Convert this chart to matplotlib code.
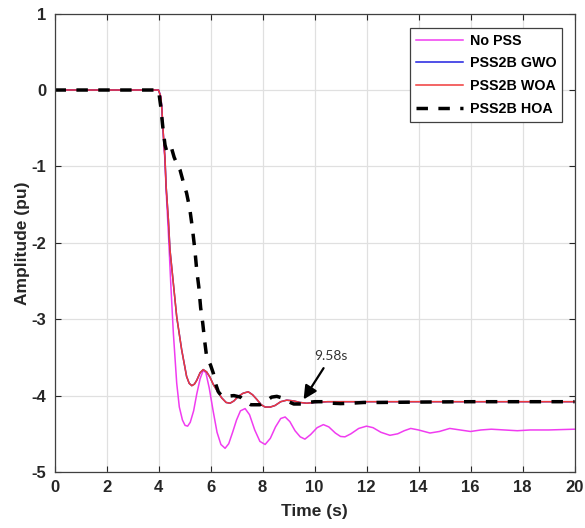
import matplotlib
matplotlib.use("Agg")
import matplotlib.pyplot as plt

plt.rcParams['font.family'] = ['Liberation Sans', 'DejaVu Sans']
plt.rcParams['axes.unicode_minus'] = False

# Terminal voltage deviation response (pu) after the disturbance at t = 4 s
t_nopss = [0, 4.0, 4.09, 4.13, 4.19, 4.25, 4.29, 4.38, 4.47, 4.57, 4.7, 4.8, 4.92,
           5.02, 5.12, 5.22, 5.35, 5.47, 5.6, 5.72, 5.82, 5.95, 6.1, 6.25, 6.4,
           6.56, 6.7, 6.85, 7.0, 7.15, 7.33, 7.5, 7.7, 7.9, 8.1, 8.3, 8.5, 8.7,
           8.87, 9.05, 9.25, 9.45, 9.63, 9.85, 10.1, 10.34, 10.55, 10.8, 11.0,
           11.17, 11.4, 11.7, 12.0, 12.25, 12.55, 12.9, 13.2, 13.45, 13.7, 14.0,
           14.44, 14.8, 15.2, 15.6, 16.0, 16.4, 16.8, 17.3, 17.8, 18.3, 19.0, 20.0]
y_nopss = [0, 0, -0.09, -0.26, -0.61, -0.95, -1.3, -1.88, -2.53, -3.18, -3.84,
           -4.15, -4.32, -4.39, -4.40, -4.35, -4.2, -3.98, -3.78, -3.67, -3.7,
           -3.9, -4.2, -4.48, -4.64, -4.69, -4.63, -4.48, -4.32, -4.2, -4.17,
           -4.25, -4.45, -4.6, -4.64, -4.56, -4.41, -4.3, -4.28, -4.34, -4.46,
           -4.54, -4.57, -4.51, -4.42, -4.38, -4.41, -4.49, -4.535, -4.54, -4.5,
           -4.43, -4.4, -4.42, -4.48, -4.52, -4.5, -4.46, -4.43, -4.45, -4.49,
           -4.47, -4.43, -4.45, -4.47, -4.45, -4.44, -4.45, -4.46, -4.45, -4.45,
           -4.44]

t_woa = [0, 4.0, 4.09, 4.13, 4.19, 4.25, 4.29, 4.38, 4.44, 4.57, 4.7, 4.89, 5.08,
         5.18, 5.28, 5.38, 5.47, 5.6, 5.72, 5.85, 5.98, 6.1, 6.24, 6.43, 6.6,
         6.75, 6.9, 7.07, 7.25, 7.45, 7.62, 7.78, 7.95, 8.1, 8.3, 8.48, 8.7,
         8.93, 9.2, 9.44, 9.7, 10.0, 10.5, 12.0, 20.0]
y_woa = [0, 0, -0.09, -0.26, -0.61, -0.9, -1.25, -1.7, -2.09, -2.53, -2.97,
         -3.40, -3.75, -3.84, -3.87, -3.85, -3.80, -3.7, -3.66, -3.69, -3.76,
         -3.85, -3.93, -4.03, -4.09, -4.1, -4.07, -4.01, -3.97, -3.95, -3.99,
         -4.05, -4.12, -4.15, -4.15, -4.13, -4.08, -4.06, -4.07, -4.09, -4.1,
         -4.09, -4.08, -4.08, -4.08]

# GWO-tuned response coincides with the WOA-tuned one
t_gwo = list(t_woa)
y_gwo = list(y_woa)

t_hoa = [0, 4.0, 4.08, 4.17, 4.25, 4.33, 4.42, 4.5, 4.6, 4.7, 4.83, 4.95, 5.08,
         5.2, 5.3, 5.4, 5.47, 5.55, 5.62, 5.7, 5.78, 5.85, 6.0, 6.11, 6.2, 6.3,
         6.42, 6.6, 6.9, 7.15, 7.35, 7.55, 7.9, 8.1, 8.35, 8.55, 8.75, 9.0, 9.2,
         9.5, 9.75, 10.0, 10.35, 10.7, 11.0, 11.4, 11.9, 12.5, 14.0, 16.0, 18.0,
         20.0]
y_hoa = [0, 0, -0.2, -0.5, -0.72, -0.82, -0.78, -0.76, -0.88, -0.96, -1.05,
         -1.2, -1.35, -1.55, -1.8, -2.1, -2.36, -2.58, -2.85, -3.05, -3.3,
         -3.49, -3.6, -3.71, -3.85, -3.95, -4.0, -4.01, -4.0, -4.02, -4.08,
         -4.12, -4.12, -4.08, -4.02, -4.01, -4.03, -4.08, -4.11, -4.11, -4.09,
         -4.08, -4.08, -4.1, -4.105, -4.1, -4.09, -4.09, -4.085, -4.08, -4.08,
         -4.08]

labels = ['No PSS', 'PSS2B GWO', 'PSS2B WOA', 'PSS2B HOA']
x_ticks = [0, 2, 4, 6, 8, 10, 12, 14, 16, 18, 20]
y_ticks = [1, 0, -1, -2, -3, -4, -5]

settle_time = 9.58
settle_value = -4.05

fig = plt.figure(figsize=(5.85, 5.28), dpi=100)
ax = fig.add_axes([0.0932, 0.1061, 0.8889, 0.8681])

ax.plot(t_nopss, y_nopss, color='#f03cf0', lw=1.1, label=labels[0])
ax.plot(t_gwo, y_gwo, color='#2020e0', lw=1.1, label=labels[1])
ax.plot(t_woa, y_woa, color='#f03a3a', lw=1.1, label=labels[2])
ax.plot(t_hoa, y_hoa, color='black', lw=2.5, dashes=(3.3, 3.0), label=labels[3])

ax.annotate(f'{settle_time}s', xy=(settle_time, settle_value),
            xytext=(10.65, -3.48), ha='center', va='center',
            fontsize=10, family=['Lato', 'DejaVu Sans'], color='#333333',
            arrowprops=dict(arrowstyle='-|>', color='black', lw=1.6,
                            mutation_scale=20, shrinkA=3, shrinkB=0))

ax.set_xlim(0, 20)
ax.set_ylim(-5, 1)
ax.set_xticks(x_ticks)
ax.set_yticks(y_ticks)
ax.tick_params(direction='in', length=4, width=0.8, top=True, right=True,
               labelsize=12, colors='#262626', pad=6)
for lab in ax.get_xticklabels() + ax.get_yticklabels():
    lab.set_fontweight('bold')
ax.grid(True, color='#e0e0e0', lw=0.9)
ax.set_axisbelow(True)
for sp in ax.spines.values():
    sp.set_color('#404040')
    sp.set_linewidth(0.9)

ax.set_xlabel('Time (s)', fontsize=12.5, fontweight='bold', color='#262626', labelpad=6)
ax.set_ylabel('Amplitude (pu)', fontsize=12.5, fontweight='bold', color='#262626', labelpad=1)

leg = ax.legend(loc='upper right', bbox_to_anchor=(0.976, 0.969),
                prop={'weight': 'bold', 'size': 10.3}, handlelength=3.3,
                handletextpad=0.45, labelspacing=0.62, borderpad=0.4,
                borderaxespad=0.0, fancybox=False, framealpha=1)
leg.get_frame().set_edgecolor('#404040')
leg.get_frame().set_linewidth(0.9)

fig.savefig('out.png', dpi=100)
